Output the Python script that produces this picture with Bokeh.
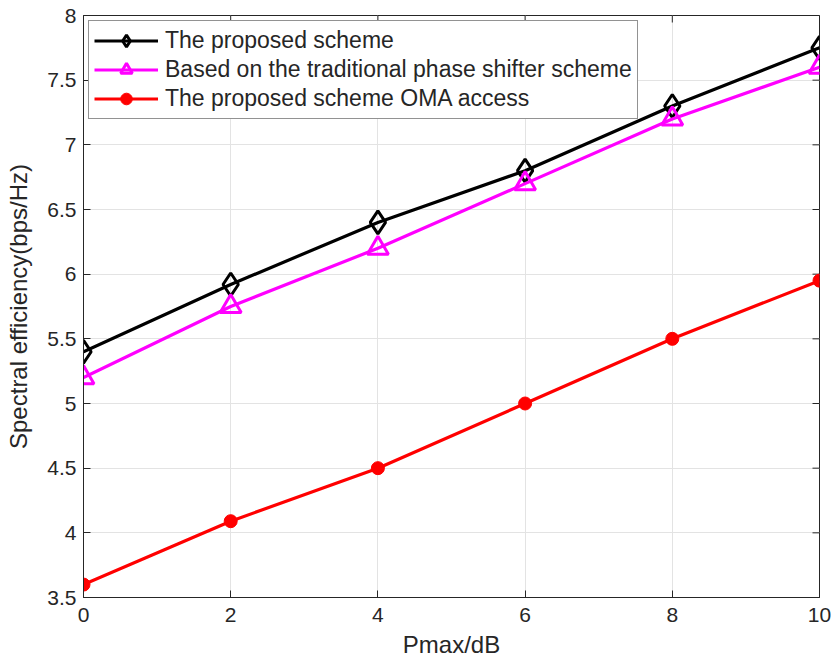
import math
from bokeh.plotting import figure
from bokeh.models import FixedTicker, Range1d, Legend, LegendItem
from bokeh.embed import file_html
from bokeh.resources import INLINE

x = [0, 2, 4, 6, 8, 10]
proposed = [5.4, 5.92, 6.4, 6.8, 7.3, 7.75]
phase_shifter = [5.2, 5.75, 6.2, 6.7, 7.2, 7.6]
oma = [3.6, 4.09, 4.5, 5.0, 5.5, 5.95]

x_ticks = [0, 2, 4, 6, 8, 10]
x_tick_labels = ["0", "2", "4", "6", "8", "10"]
y_ticks = [3.5, 4, 4.5, 5, 5.5, 6, 6.5, 7, 7.5, 8]
y_tick_labels = ["3.5", "4", "4.5", "5", "5.5", "6", "6.5", "7", "7.5", "8"]

names = ["The proposed scheme",
         "Based on the traditional phase shifter scheme",
         "The proposed scheme OMA access"]

FONT = "Liberation Sans"
TXT = "#262626"
GRID = "#e3e3e3"

x_min, x_max = x_ticks[0], x_ticks[-1]
y_min, y_max = y_ticks[0], y_ticks[-1]

p = figure(width=834, height=668, output_backend="svg", toolbar_location=None,
           x_range=Range1d(x_min, x_max), y_range=Range1d(y_min, y_max),
           min_border_left=83, min_border_right=15, min_border_top=15, min_border_bottom=71)
p.outline_line_color = TXT
p.outline_line_width = 1
p.background_fill_color = "white"
p.border_fill_color = "white"

for ax, ticks, labels in [(p.xaxis[0], x_ticks, x_tick_labels), (p.yaxis[0], y_ticks, y_tick_labels)]:
    ax.ticker = FixedTicker(ticks=ticks)
    ax.major_label_overrides = {t: l for t, l in zip(ticks, labels)}
    ax.major_label_text_font = FONT
    ax.major_label_text_font_size = "21px"
    ax.major_label_text_color = TXT
    ax.axis_line_color = TXT
    ax.major_tick_line_color = TXT
    ax.major_tick_in = 7
    ax.major_tick_out = 0
    ax.minor_tick_line_color = None
    ax.axis_label_text_font = FONT
    ax.axis_label_text_font_size = "24px"
    ax.axis_label_text_font_style = "normal"
    ax.axis_label_text_color = TXT

p.xaxis.axis_label = "Pmax/dB"
p.yaxis.axis_label = "Spectral efficiency(bps/Hz)"
p.xaxis.major_label_standoff = 10
p.yaxis.major_label_standoff = 7
p.xaxis.axis_label_standoff = 6
p.yaxis.axis_label_standoff = 12

p.xgrid.ticker = FixedTicker(ticks=x_ticks)
p.ygrid.ticker = FixedTicker(ticks=y_ticks)
p.grid.grid_line_color = GRID
p.grid.grid_line_width = 1

# box ticks on top and right edges (clipped to frame, so only inner half shows)
p.scatter(x_ticks, [y_max] * len(x_ticks), marker="dash", angle=math.pi / 2, size=14,
          line_color=TXT, line_width=1)
p.scatter([x_max] * len(y_ticks), y_ticks, marker="dash", size=14, line_color=TXT, line_width=1)

l1 = p.line(x, proposed, line_color="black", line_width=3.2)
m1 = p.scatter(x, proposed, marker="diamond", size=23, line_color="black", line_width=3,
               fill_color=None)
l2 = p.line(x, phase_shifter, line_color="#ff00ff", line_width=3.2)
m2 = p.scatter(x, phase_shifter, marker="triangle", size=21, line_color="#ff00ff", line_width=3,
               fill_color=None)
l3 = p.line(x, oma, line_color="#ff0000", line_width=3.2)
m3 = p.scatter(x, oma, marker="circle", size=13, line_color="#ff0000", fill_color="#ff0000")

legend = Legend(items=[LegendItem(label=names[0], renderers=[l1, m1]),
                       LegendItem(label=names[1], renderers=[l2, m2]),
                       LegendItem(label=names[2], renderers=[l3, m3])],
                location="top_left")
legend.margin = 5
legend.padding = 5
legend.spacing = 0
legend.glyph_width = 64
legend.glyph_height = 29
legend.label_height = 29
legend.label_standoff = 7
legend.label_text_font = FONT
legend.label_text_font_size = "23px"
legend.label_text_color = TXT
legend.border_line_color = TXT
legend.border_line_width = 1
legend.background_fill_color = "white"
legend.background_fill_alpha = 1
p.add_layout(legend, "center")

open("out.html", "w").write(file_html(p, INLINE))
